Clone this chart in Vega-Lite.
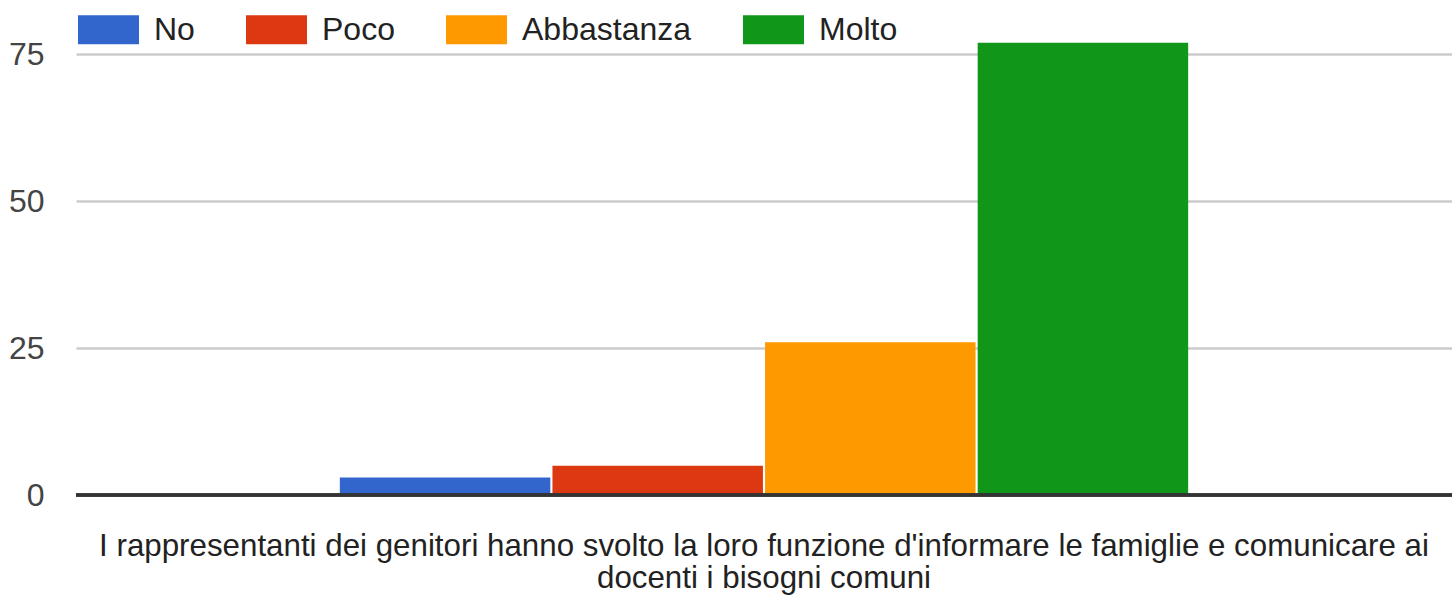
{
  "$schema": "https://vega.github.io/schema/vega-lite/v6.json",
  "autosize": {"type": "none"},
  "width": 1376,
  "height": 470,
  "padding": {"left": 76, "top": 25, "right": 0, "bottom": 101},
  "background": "#ffffff",
  "view": {"stroke": null},
  "config": {"font": "Liberation Sans"},
  "data": {
    "values": [
      {"domanda": "I rappresentanti dei genitori hanno svolto la loro funzione d'informare le famiglie e comunicare ai docenti i bisogni comuni", "risposta": "No", "conteggio": 3},
      {"domanda": "I rappresentanti dei genitori hanno svolto la loro funzione d'informare le famiglie e comunicare ai docenti i bisogni comuni", "risposta": "Poco", "conteggio": 5},
      {"domanda": "I rappresentanti dei genitori hanno svolto la loro funzione d'informare le famiglie e comunicare ai docenti i bisogni comuni", "risposta": "Abbastanza", "conteggio": 26},
      {"domanda": "I rappresentanti dei genitori hanno svolto la loro funzione d'informare le famiglie e comunicare ai docenti i bisogni comuni", "risposta": "Molto", "conteggio": 77}
    ]
  },
  "layer": [
    {
      "mark": {"type": "bar"},
      "encoding": {
        "x": {
          "field": "domanda",
          "type": "nominal",
          "scale": {"paddingInner": 0, "paddingOuter": 0.311},
          "axis": {
            "title": null,
            "domain": false,
            "ticks": false,
            "tickSize": 0,
            "labelAngle": 0,
            "labelFontSize": 31.3,
            "labelColor": "#222222",
            "labelBaseline": "alphabetic",
            "labelPadding": 60,
            "labelDx": 10,
            "labelLineHeight": 32,
            "labelLimit": 2000,
            "labelExpr": "[slice(datum.label, 0, indexof(datum.label, ' docenti')), slice(datum.label, indexof(datum.label, ' docenti') + 1)]"
          }
        },
        "xOffset": {
          "field": "risposta",
          "type": "nominal",
          "sort": ["No", "Poco", "Abbastanza", "Molto"],
          "scale": {"paddingInner": 0.01, "paddingOuter": 0}
        },
        "y": {
          "field": "conteggio",
          "type": "quantitative",
          "scale": {"domain": [0, 80], "nice": false},
          "axis": {
            "title": null,
            "values": [0, 25, 50, 75],
            "domain": false,
            "ticks": false,
            "tickSize": 0,
            "labelFontSize": 32,
            "labelColor": "#444444",
            "labelPadding": 32,
            "gridColor": "#cccccc",
            "gridWidth": 2.5
          }
        },
        "color": {
          "field": "risposta",
          "type": "nominal",
          "sort": ["No", "Poco", "Abbastanza", "Molto"],
          "scale": {"domain": ["No", "Poco", "Abbastanza", "Molto"], "range": ["#3366cc", "#dc3912", "#ff9900", "#109618"]},
          "legend": {
            "title": null,
            "orient": "none",
            "legendX": 2,
            "legendY": -26,
            "direction": "horizontal",
            "columns": 4,
            "padding": 0,
            "columnPadding": 51,
            "labelOffset": 15,
            "labelFontSize": 32,
            "labelColor": "#222222",
            "labelLimit": 1000,
            "symbolType": "M-1,-0.475H1V0.475H-1Z",
            "symbolSize": 3721,
            "symbolStrokeWidth": 0,
            "symbolOpacity": 1
          }
        }
      }
    },
    {
      "mark": {"type": "rule", "color": "#333333", "strokeWidth": 3},
      "encoding": {"y": {"datum": 0}}
    }
  ]
}
